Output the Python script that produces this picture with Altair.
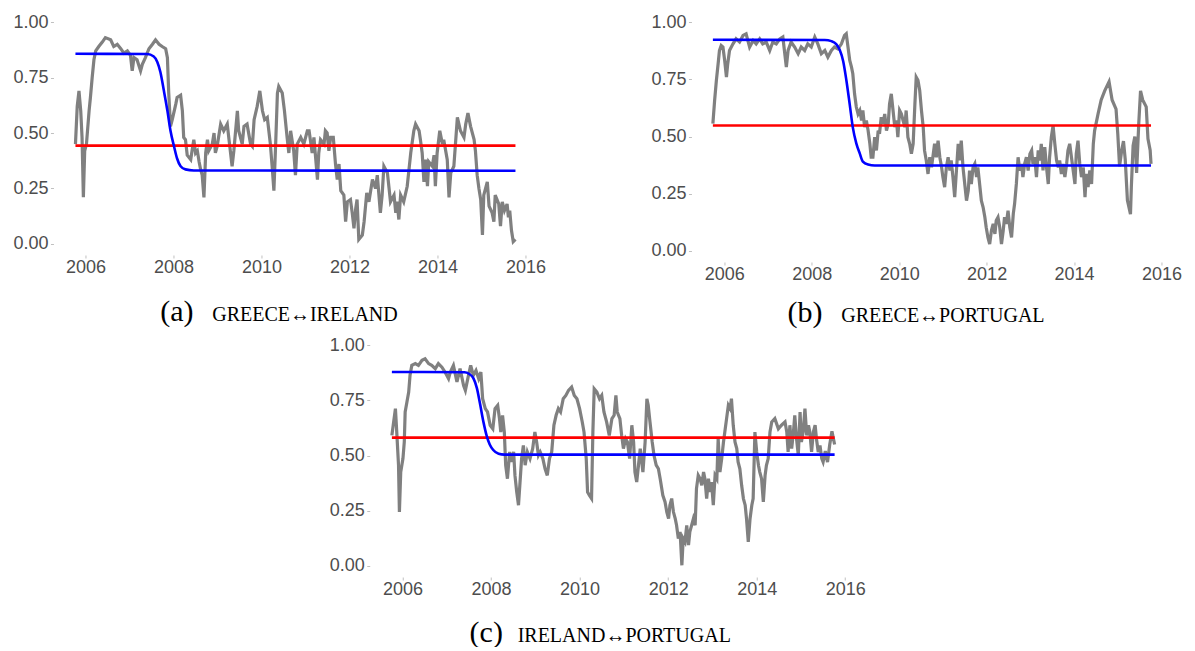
import altair as alt
import pandas as pd

# ---------------- (a) GREECE <-> IRELAND ----------------
a_years = [2005.77, 2005.81, 2005.85, 2005.89, 2005.92, 2005.95, 2005.98, 2006.02, 2006.08, 2006.11,
           2006.15, 2006.19, 2006.23, 2006.30, 2006.38, 2006.45, 2006.57, 2006.64, 2006.72, 2006.80,
           2006.87, 2006.95, 2007.02, 2007.06, 2007.10, 2007.17, 2007.25, 2007.29, 2007.36, 2007.44,
           2007.52, 2007.59, 2007.67, 2007.74, 2007.82, 2007.86, 2007.89, 2007.93, 2007.97, 2008.05,
           2008.08, 2008.16, 2008.20, 2008.23, 2008.27, 2008.31, 2008.39, 2008.42, 2008.46, 2008.50,
           2008.54, 2008.58, 2008.61, 2008.65, 2008.69, 2008.73, 2008.77, 2008.80, 2008.88, 2008.92,
           2008.95, 2008.99, 2009.07, 2009.14, 2009.22, 2009.26, 2009.33, 2009.37, 2009.45, 2009.48,
           2009.56, 2009.60, 2009.67, 2009.75, 2009.79, 2009.83, 2009.90, 2009.96, 2010.02, 2010.07,
           2010.13, 2010.20, 2010.24, 2010.28, 2010.32, 2010.36, 2010.39, 2010.47, 2010.52, 2010.58,
           2010.62, 2010.66, 2010.73, 2010.77, 2010.81, 2010.89, 2010.96, 2011.04, 2011.08, 2011.15,
           2011.19, 2011.27, 2011.30, 2011.34, 2011.42, 2011.45, 2011.49, 2011.53, 2011.57, 2011.63,
           2011.68, 2011.72, 2011.76, 2011.80, 2011.87, 2011.91, 2011.95, 2012.02, 2012.06, 2012.10,
           2012.14, 2012.17, 2012.21, 2012.29, 2012.33, 2012.39, 2012.44, 2012.52, 2012.59, 2012.63,
           2012.70, 2012.74, 2012.78, 2012.86, 2012.93, 2013.01, 2013.05, 2013.08, 2013.12, 2013.16,
           2013.23, 2013.31, 2013.39, 2013.46, 2013.50, 2013.58, 2013.61, 2013.65, 2013.69, 2013.73,
           2013.77, 2013.80, 2013.88, 2013.92, 2013.95, 2013.99, 2014.05, 2014.11, 2014.14, 2014.22,
           2014.26, 2014.30, 2014.37, 2014.45, 2014.52, 2014.60, 2014.64, 2014.69, 2014.75, 2014.83,
           2014.86, 2014.90, 2014.94, 2014.98, 2015.02, 2015.05, 2015.13, 2015.17, 2015.24, 2015.28,
           2015.31, 2015.39, 2015.43, 2015.47, 2015.52, 2015.58, 2015.61, 2015.64, 2015.68, 2015.72,
           2015.77]
a_vals = [0.45, 0.62, 0.69, 0.60, 0.48, 0.21, 0.42, 0.45, 0.60, 0.66,
          0.75, 0.83, 0.87, 0.89, 0.91, 0.93, 0.92, 0.89, 0.90, 0.88,
          0.86, 0.87, 0.85, 0.78, 0.84, 0.83, 0.78, 0.81, 0.84, 0.88,
          0.90, 0.92, 0.90, 0.89, 0.88, 0.84, 0.68, 0.53, 0.56, 0.63,
          0.66, 0.67, 0.60, 0.48, 0.47, 0.40, 0.38, 0.42, 0.47, 0.41,
          0.42, 0.37, 0.34, 0.31, 0.21, 0.41, 0.47, 0.42, 0.45, 0.50,
          0.41, 0.44, 0.54, 0.51, 0.54, 0.47, 0.35, 0.42, 0.60, 0.51,
          0.45, 0.53, 0.54, 0.45, 0.44, 0.56, 0.62, 0.69, 0.60, 0.56,
          0.57, 0.45, 0.35, 0.24, 0.45, 0.68, 0.71, 0.68, 0.60, 0.48,
          0.41, 0.51, 0.42, 0.31, 0.45, 0.48, 0.45, 0.51, 0.51, 0.41,
          0.48, 0.29, 0.41, 0.47, 0.45, 0.51, 0.50, 0.42, 0.48, 0.48,
          0.36, 0.29, 0.36, 0.24, 0.22, 0.10, 0.19, 0.20, 0.14, 0.07,
          0.16, 0.20, 0.02, 0.04, 0.10, 0.23, 0.19, 0.29, 0.25, 0.31,
          0.14, 0.22, 0.35, 0.32, 0.19, 0.22, 0.14, 0.19, 0.11, 0.22,
          0.19, 0.26, 0.41, 0.51, 0.54, 0.51, 0.47, 0.41, 0.28, 0.38,
          0.26, 0.37, 0.35, 0.40, 0.26, 0.41, 0.51, 0.45, 0.47, 0.38,
          0.21, 0.32, 0.35, 0.57, 0.51, 0.48, 0.54, 0.59, 0.53, 0.47,
          0.42, 0.31, 0.25, 0.20, 0.04, 0.22, 0.28, 0.17, 0.14, 0.10,
          0.22, 0.18, 0.08, 0.19, 0.15, 0.18, 0.12, 0.15, 0.06, 0.01,
          0.02]
a_blue_years = [2005.77, 2007.40, 2007.55, 2007.63, 2007.70, 2007.78, 2007.86, 2007.93, 2008.01,
                2008.08, 2008.16, 2008.27, 2008.46, 2015.77]
a_blue_vals = [0.857, 0.856, 0.845, 0.82, 0.775, 0.69, 0.60, 0.51, 0.44,
               0.385, 0.35, 0.336, 0.331, 0.330]
a_red = 0.443

# ---------------- (b) GREECE <-> PORTUGAL ----------------
b_years = [2005.74, 2005.78, 2005.82, 2005.86, 2005.89, 2005.93, 2005.97, 2006.01, 2006.05, 2006.08,
           2006.12, 2006.20, 2006.27, 2006.35, 2006.43, 2006.50, 2006.58, 2006.66, 2006.73, 2006.81,
           2006.88, 2006.96, 2007.04, 2007.11, 2007.19, 2007.27, 2007.34, 2007.42, 2007.46, 2007.53,
           2007.61, 2007.69, 2007.76, 2007.84, 2007.91, 2007.99, 2008.07, 2008.14, 2008.22, 2008.30,
           2008.37, 2008.45, 2008.52, 2008.60, 2008.68, 2008.75, 2008.79, 2008.83, 2008.87, 2008.91,
           2008.94, 2008.98, 2009.02, 2009.06, 2009.10, 2009.14, 2009.17, 2009.21, 2009.25, 2009.29,
           2009.33, 2009.36, 2009.40, 2009.44, 2009.48, 2009.52, 2009.55, 2009.59, 2009.63, 2009.67,
           2009.71, 2009.75, 2009.78, 2009.82, 2009.86, 2009.90, 2009.94, 2009.97, 2010.01, 2010.05,
           2010.09, 2010.13, 2010.16, 2010.20, 2010.24, 2010.28, 2010.32, 2010.36, 2010.39, 2010.43,
           2010.47, 2010.51, 2010.55, 2010.58, 2010.62, 2010.66, 2010.70, 2010.74, 2010.78, 2010.81,
           2010.85, 2010.89, 2010.93, 2010.97, 2011.00, 2011.04, 2011.08, 2011.12, 2011.16, 2011.19,
           2011.23, 2011.27, 2011.31, 2011.35, 2011.38, 2011.42, 2011.46, 2011.50, 2011.54, 2011.58,
           2011.61, 2011.65, 2011.69, 2011.73, 2011.77, 2011.80, 2011.84, 2011.88, 2011.92, 2011.96,
           2011.99, 2012.03, 2012.07, 2012.11, 2012.15, 2012.19, 2012.22, 2012.26, 2012.30, 2012.34,
           2012.38, 2012.41, 2012.45, 2012.49, 2012.53, 2012.57, 2012.61, 2012.64, 2012.68, 2012.72,
           2012.76, 2012.80, 2012.83, 2012.87, 2012.91, 2012.95, 2012.99, 2013.03, 2013.06, 2013.10,
           2013.14, 2013.18, 2013.22, 2013.25, 2013.29, 2013.33, 2013.37, 2013.41, 2013.44, 2013.48,
           2013.52, 2013.56, 2013.60, 2013.64, 2013.67, 2013.71, 2013.75, 2013.79, 2013.83, 2013.86,
           2013.90, 2013.94, 2013.98, 2014.02, 2014.05, 2014.09, 2014.13, 2014.17, 2014.21, 2014.25,
           2014.28, 2014.32, 2014.36, 2014.40, 2014.44, 2014.47, 2014.55, 2014.62, 2014.70, 2014.80,
           2014.87, 2014.96, 2015.00, 2015.04, 2015.09, 2015.13, 2015.17, 2015.22, 2015.29, 2015.31,
           2015.35, 2015.39, 2015.43, 2015.48, 2015.52, 2015.57, 2015.65, 2015.69, 2015.74, 2015.76]
b_vals = [0.556, 0.658, 0.746, 0.819, 0.877, 0.899, 0.892, 0.833, 0.760, 0.819,
          0.877, 0.906, 0.928, 0.914, 0.943, 0.950, 0.892, 0.921, 0.906, 0.928,
          0.906, 0.914, 0.877, 0.914, 0.906, 0.928, 0.936, 0.804, 0.877, 0.914,
          0.892, 0.863, 0.892, 0.877, 0.906, 0.892, 0.936, 0.906, 0.863, 0.877,
          0.848, 0.877, 0.892, 0.884, 0.906, 0.943, 0.950, 0.892, 0.833, 0.804,
          0.775, 0.687, 0.629, 0.599, 0.614, 0.570, 0.614, 0.541, 0.570, 0.526,
          0.468, 0.409, 0.409, 0.497, 0.439, 0.526, 0.512, 0.585, 0.556, 0.599,
          0.526, 0.556, 0.643, 0.687, 0.614, 0.541, 0.570, 0.497, 0.614, 0.599,
          0.570, 0.541, 0.614, 0.497, 0.468, 0.424, 0.468, 0.643, 0.760, 0.746,
          0.702, 0.614, 0.541, 0.439, 0.395, 0.336, 0.409, 0.365, 0.424, 0.468,
          0.409, 0.482, 0.409, 0.365, 0.322, 0.278, 0.365, 0.409, 0.351, 0.395,
          0.322, 0.234, 0.351, 0.468, 0.395, 0.482, 0.365, 0.292, 0.219, 0.263,
          0.351, 0.292, 0.365, 0.380, 0.322, 0.365, 0.292, 0.219, 0.190, 0.146,
          0.102, 0.058, 0.029, 0.088, 0.117, 0.073, 0.132, 0.146, 0.102, 0.029,
          0.088, 0.146, 0.117, 0.175, 0.102, 0.058, 0.161, 0.205, 0.292, 0.409,
          0.351, 0.380, 0.322, 0.380, 0.409, 0.351, 0.424, 0.439, 0.380, 0.409,
          0.322, 0.439, 0.395, 0.468, 0.351, 0.453, 0.365, 0.292, 0.409, 0.497,
          0.548, 0.468, 0.395, 0.365, 0.395, 0.336, 0.380, 0.322, 0.380, 0.439,
          0.468, 0.409, 0.351, 0.292, 0.424, 0.482, 0.380, 0.322, 0.365, 0.234,
          0.336, 0.278, 0.351, 0.292, 0.468, 0.526, 0.600, 0.660, 0.700, 0.740,
          0.660, 0.620, 0.510, 0.370, 0.440, 0.480, 0.400, 0.220, 0.160, 0.280,
          0.460, 0.500, 0.340, 0.560, 0.700, 0.660, 0.630, 0.490, 0.440, 0.380]
b_blue_years = [2005.74, 2008.30, 2008.45, 2008.56, 2008.64, 2008.72, 2008.79, 2008.87, 2008.94,
                2009.02, 2009.10, 2009.17, 2009.29, 2009.44, 2015.76]
b_blue_vals = [0.924, 0.923, 0.918, 0.905, 0.88, 0.83, 0.75, 0.64, 0.54,
               0.47, 0.425, 0.39, 0.377, 0.373, 0.373]
b_red = 0.548

# ---------------- (c) IRELAND <-> PORTUGAL ----------------
c_years = [2005.76, 2005.80, 2005.84, 2005.87, 2005.91, 2005.93, 2005.96, 2006.01, 2006.04, 2006.06,
           2006.10, 2006.14, 2006.17, 2006.21, 2006.29, 2006.36, 2006.44, 2006.51, 2006.59, 2006.66,
           2006.74, 2006.81, 2006.89, 2006.96, 2007.04, 2007.08, 2007.15, 2007.23, 2007.30, 2007.38,
           2007.42, 2007.49, 2007.54, 2007.60, 2007.66, 2007.72, 2007.77, 2007.81, 2007.87, 2007.92,
           2007.98, 2008.04, 2008.09, 2008.15, 2008.19, 2008.22, 2008.26, 2008.30, 2008.33, 2008.37,
           2008.42, 2008.45, 2008.51, 2008.54, 2008.58, 2008.62, 2008.66, 2008.69, 2008.73, 2008.77,
           2008.82, 2008.88, 2008.94, 2008.99, 2009.03, 2009.07, 2009.11, 2009.17, 2009.22, 2009.27,
           2009.32, 2009.37, 2009.42, 2009.47, 2009.52, 2009.57, 2009.63, 2009.69, 2009.75, 2009.82,
           2009.88, 2009.94, 2010.00, 2010.06, 2010.10, 2010.15, 2010.18, 2010.22, 2010.27, 2010.30,
           2010.33, 2010.39, 2010.45, 2010.50, 2010.55, 2010.61, 2010.67, 2010.73, 2010.78, 2010.82,
           2010.85, 2010.91, 2010.95, 2010.99, 2011.04, 2011.08, 2011.13, 2011.18, 2011.22, 2011.25,
           2011.29, 2011.33, 2011.37, 2011.43, 2011.48, 2011.52, 2011.55, 2011.59, 2011.64, 2011.68,
           2011.73, 2011.78, 2011.82, 2011.88, 2011.93, 2011.97, 2012.01, 2012.04, 2012.08, 2012.12,
           2012.16, 2012.19, 2012.23, 2012.27, 2012.31, 2012.34, 2012.38, 2012.42, 2012.46, 2012.49,
           2012.53, 2012.57, 2012.61, 2012.64, 2012.68, 2012.72, 2012.76, 2012.80, 2012.83, 2012.87,
           2012.91, 2012.95, 2012.98, 2013.02, 2013.06, 2013.10, 2013.13, 2013.17, 2013.21, 2013.25,
           2013.28, 2013.32, 2013.36, 2013.40, 2013.43, 2013.47, 2013.51, 2013.55, 2013.58, 2013.62,
           2013.66, 2013.70, 2013.74, 2013.77, 2013.81, 2013.85, 2013.89, 2013.92, 2013.96, 2014.00,
           2014.04, 2014.07, 2014.11, 2014.15, 2014.19, 2014.22, 2014.26, 2014.30, 2014.34, 2014.41,
           2014.49, 2014.56, 2014.64, 2014.68, 2014.71, 2014.75, 2014.79, 2014.83, 2014.86, 2014.90,
           2014.94, 2014.98, 2015.01, 2015.05, 2015.09, 2015.13, 2015.17, 2015.20, 2015.24, 2015.28,
           2015.32, 2015.35, 2015.39, 2015.43, 2015.47, 2015.50, 2015.55, 2015.60, 2015.65, 2015.70,
           2015.76]
c_vals = [0.591, 0.652, 0.712, 0.606, 0.456, 0.244, 0.425, 0.486, 0.561, 0.697,
          0.742, 0.787, 0.863, 0.908, 0.916, 0.908, 0.931, 0.938, 0.916, 0.908,
          0.893, 0.916, 0.900, 0.878, 0.848, 0.878, 0.908, 0.833, 0.893, 0.817,
          0.795, 0.863, 0.908, 0.863, 0.885, 0.848, 0.878, 0.757, 0.712, 0.697,
          0.637, 0.621, 0.712, 0.727, 0.667, 0.606, 0.682, 0.606, 0.456, 0.395,
          0.516, 0.471, 0.516, 0.410, 0.335, 0.275, 0.395, 0.486, 0.546, 0.456,
          0.516, 0.486, 0.531, 0.606, 0.561, 0.501, 0.516, 0.486, 0.440, 0.410,
          0.486, 0.516, 0.637, 0.682, 0.712, 0.697, 0.757, 0.772, 0.795, 0.810,
          0.772, 0.757, 0.712, 0.652, 0.606, 0.486, 0.335, 0.320, 0.305, 0.606,
          0.802, 0.787, 0.757, 0.772, 0.697, 0.652, 0.591, 0.667, 0.682, 0.772,
          0.697, 0.667, 0.591, 0.531, 0.576, 0.561, 0.486, 0.637, 0.561, 0.425,
          0.380, 0.456, 0.531, 0.425, 0.561, 0.757, 0.727, 0.652, 0.561, 0.501,
          0.456, 0.440, 0.395, 0.320, 0.290, 0.244, 0.214, 0.275, 0.305, 0.244,
          0.214, 0.184, 0.124, 0.154, 0.003, 0.124, 0.109, 0.184, 0.094, 0.154,
          0.184, 0.214, 0.184, 0.350, 0.410, 0.395, 0.365, 0.425, 0.395, 0.305,
          0.395, 0.335, 0.380, 0.275, 0.410, 0.395, 0.576, 0.425, 0.486, 0.561,
          0.606, 0.667, 0.727, 0.712, 0.757, 0.637, 0.561, 0.531, 0.471, 0.440,
          0.365, 0.305, 0.275, 0.214, 0.109, 0.214, 0.275, 0.305, 0.606, 0.516,
          0.456, 0.425, 0.395, 0.290, 0.410, 0.456, 0.486, 0.606, 0.652, 0.667,
          0.621, 0.637, 0.652, 0.606, 0.516, 0.637, 0.531, 0.606, 0.682, 0.576,
          0.501, 0.697, 0.561, 0.606, 0.712, 0.591, 0.637, 0.606, 0.516, 0.606,
          0.637, 0.576, 0.516, 0.546, 0.486, 0.471, 0.520, 0.470, 0.550, 0.610,
          0.550]
c_blue_years = [2005.76, 2007.40, 2007.50, 2007.60, 2007.68, 2007.75, 2007.83, 2007.90, 2007.97,
                2008.05, 2008.17, 2008.30, 2015.76]
c_blue_vals = [0.878, 0.877, 0.870, 0.850, 0.805, 0.735, 0.65, 0.59, 0.55,
               0.525, 0.508, 0.504, 0.504]
c_red = 0.581

x_ticks = [2006, 2008, 2010, 2012, 2014, 2016]
y_ticks = [0.0, 0.25, 0.5, 0.75, 1.0]

LABEL_FONT = "Liberation Sans"
CAP_FONT = "Liberation Serif"


def panel(years, vals, byears, bvals, red, width, height, xdom,
          letter, caps, letter_x, letter_y, caps_x, caps_y):
    gray_df = pd.DataFrame({"year": years, "value": vals})
    blue_df = pd.DataFrame({"year": byears, "value": bvals})
    red_df = pd.DataFrame({"year": [years[0], years[-1]], "value": [red, red]})

    x = alt.X(
        "year:Q",
        scale=alt.Scale(domain=xdom, nice=False, zero=False),
        axis=alt.Axis(
            values=x_ticks, format="d", labelFont=LABEL_FONT, labelFontSize=18,
            labelColor="#4d4d4d", labelPadding=0, labelFlush=False,
            tickSize=3, tickColor="#c0c0c0", tickWidth=1,
            domain=False, grid=False,
            title=caps, titleFont=CAP_FONT, titleFontSize=20, titleFontWeight="normal",
            titleColor="#000000", titleX=caps_x, titleY=caps_y,
            titleAlign="center", titleBaseline="alphabetic",
        ),
    )
    y = alt.Y(
        "value:Q",
        scale=alt.Scale(domain=[-0.05, 1.05], nice=False, zero=False),
        axis=alt.Axis(
            values=y_ticks, format=".2f", labelFont=LABEL_FONT, labelFontSize=18,
            labelColor="#4d4d4d", labelPadding=2.5, labelFlush=False,
            tickSize=3, tickColor="#c0c0c0", tickWidth=1,
            domain=False, grid=False,
            title=letter, titleFont=CAP_FONT, titleFontSize=30, titleFontWeight="normal",
            titleColor="#000000", titleAngle=0, titleX=letter_x, titleY=letter_y,
            titleAlign="center", titleBaseline="alphabetic",
        ),
    )
    g = alt.Chart(gray_df).mark_line(color="#808080", strokeWidth=3.2).encode(x=x, y=y)
    r = alt.Chart(red_df).mark_line(color="#ff0000", strokeWidth=2.6).encode(x=x, y=y)
    b = alt.Chart(blue_df).mark_line(color="#0000ff", strokeWidth=2.6,
                                     interpolate="monotone").encode(x=x, y=y)
    return alt.layer(g, r, b).properties(width=width, height=height)


A = panel(a_years, a_vals, a_blue_years, a_blue_vals, a_red, 484, 244, [2005.27, 2016.27],
          "(a)", "GREECE↔IRELAND", 123, 309, 251, 65)
B = panel(b_years, b_vals, b_blue_years, b_blue_vals, b_red, 481, 251, [2005.25, 2016.25],
          "(b)", "GREECE↔PORTUGAL", 113, 310, 251, 59)
C = panel(c_years, c_vals, c_blue_years, c_blue_vals, c_red, 487, 243, [2005.26, 2016.26],
          "(c)", "IRELAND↔PORTUGAL", 116, 307, 254, 64)

top = alt.hconcat(A, B, spacing=104)
chart = (
    alt.vconcat(top, C, spacing=7, center=True)
    .properties(padding={"left": 4, "top": 3, "right": 0, "bottom": 0}, background="white")
    .configure_view(stroke=None)
)

chart.save("out.html", embed_options={"renderer": "svg", "actions": False})
